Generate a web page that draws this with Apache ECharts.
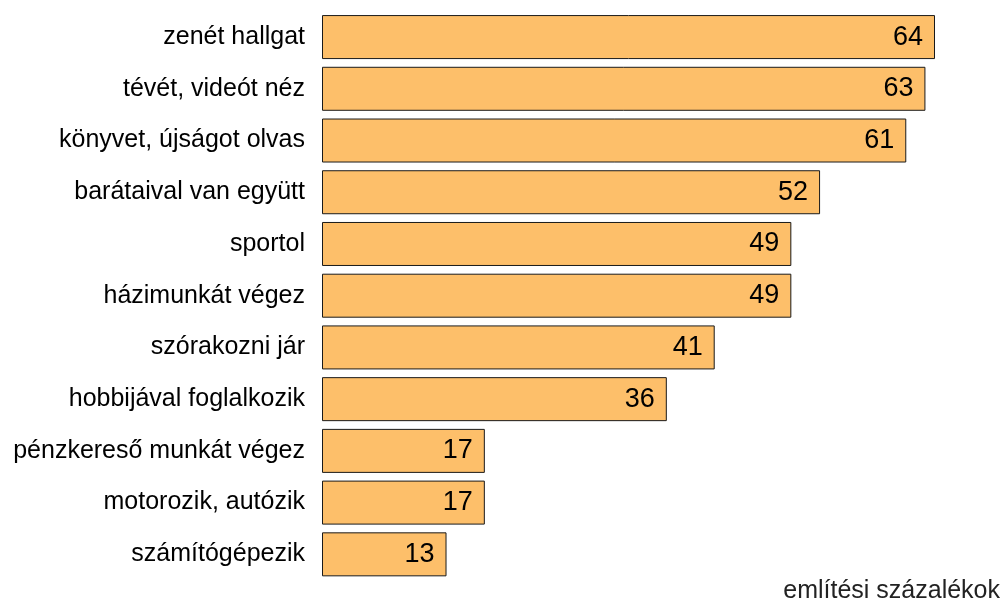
<!DOCTYPE html>
<html>
<head>
<meta charset="utf-8">
<script src="https://cdn.jsdelivr.net/npm/echarts@6/dist/echarts.min.js"></script>
<style>
  html, body { margin: 0; padding: 0; background: #fff; }
  #chart { width: 1003px; height: 605px; }
</style>
</head>
<body>
<div id="chart"></div>
<script>
// tevékenységek, felülről lefelé
const categories = [
  'zenét hallgat',
  'tévét, videót néz',
  'könyvet, újságot olvas',
  'barátaival van együtt',
  'sportol',
  'házimunkát végez',
  'szórakozni jár',
  'hobbijával foglalkozik',
  'pénzkereső munkát végez',
  'motorozik, autózik',
  'számítógépezik'
]
const values = [64, 63, 61, 52, 49, 49, 41, 36, 17, 17, 13]
const axisTitle = 'említési százalékok'

const chart = echarts.init(document.getElementById('chart'))

const xMax = 70
const pxPerUnit = (935 - 322) / 64

chart.setOption({
  animation: false,
  grid: {
    left: 322,
    top: 11.2,
    width: xMax * pxPerUnit,
    height: 569,
    containLabel: false
  },
  xAxis: {
    type: 'value',
    min: 0,
    max: xMax,
    show: false
  },
  yAxis: {
    type: 'category',
    inverse: true,
    data: categories,
    axisLine: { show: false },
    axisTick: { show: false },
    axisLabel: {
      margin: 17,
      fontFamily: 'Liberation Sans, Arial, sans-serif',
      fontSize: 25,
      color: '#000'
    }
  },
  graphic: [{
    type: 'text',
    right: 3,
    top: 579,
    style: {
      text: axisTitle,
      fontFamily: 'Liberation Sans, Arial, sans-serif',
      fontSize: 25,
      fill: '#222'
    }
  }],
  series: [{
    type: 'bar',
    data: values,
    barWidth: 44,
    itemStyle: {
      color: '#FDBF6A',
      borderColor: '#1a1a1a',
      borderWidth: 1
    },
    label: {
      show: true,
      position: 'insideRight',
      distance: 12,
      fontFamily: 'Liberation Sans, Arial, sans-serif',
      fontSize: 27,
      color: '#000'
    }
  }]
})
</script>
</body>
</html>
